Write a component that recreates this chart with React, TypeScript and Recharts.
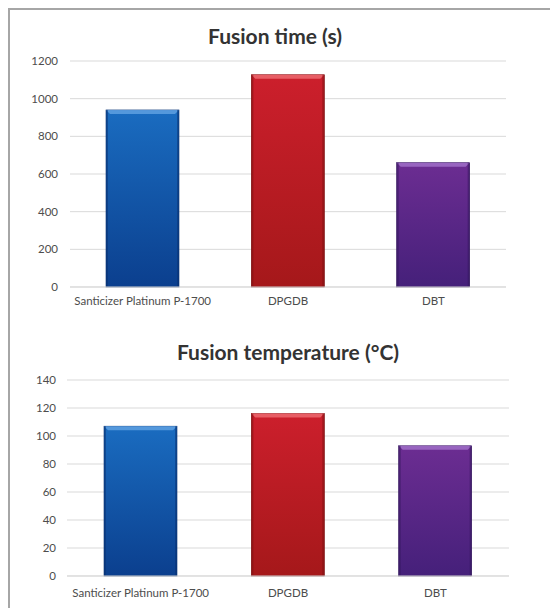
import { BarChart, Bar, XAxis, YAxis, CartesianGrid, Cell } from "recharts";

const categories = ["Santicizer Platinum P-1700", "DPGDB", "DBT"];
const fusionTime = [940, 1127, 660];
const fusionTemp = [107, 116, 93];
const timeTicks = [0, 200, 400, 600, 800, 1000, 1200];
const tempTicks = [0, 20, 40, 60, 80, 100, 120, 140];

const barColors = [
  { top: "#1a6cc0", bottom: "#0b3f8e", light: "#5fa0e0", edge: "#083070" },
  { top: "#cc1f2c", bottom: "#a5181a", light: "#ec6a70", edge: "#7a1010" },
  { top: "#6c2d92", bottom: "#45207a", light: "#a070c8", edge: "#30155a" },
];

const timeData = categories.map((name, i) => ({ name, value: fusionTime[i] }));
const tempData = categories.map((name, i) => ({ name, value: fusionTemp[i] }));

const font = "Lato, 'Open Sans', sans-serif";

function BevelBar(props: any) {
  const { x, y, width, height, index } = props;
  if (height <= 0) return null;
  const c = barColors[index % barColors.length];
  const b = 4;
  return (
    <g>
      <rect x={x} y={y} width={width} height={height} fill={`url(#grad${index})`} stroke={c.edge} strokeWidth={0.6} />
      <polygon
        points={`${x},${y} ${x + width},${y} ${x + width - b},${y + b} ${x + b},${y + b}`}
        fill={c.light}
        opacity={0.85}
      />
      <rect x={x} y={y} width={2} height={height} fill={c.edge} opacity={0.5} />
      <rect x={x + width - 2} y={y} width={2} height={height} fill={c.edge} opacity={0.5} />
    </g>
  );
}

function Defs() {
  return (
    <defs>
      {barColors.map((c, i) => (
        <linearGradient key={i} id={`grad${i}`} x1="0" y1="0" x2="0" y2="1">
          <stop offset="0%" stopColor={c.top} />
          <stop offset="100%" stopColor={c.bottom} />
        </linearGradient>
      ))}
    </defs>
  );
}

const tickStyle = { fill: "#4d4d4d", fontSize: 11.5, fontFamily: font };

const titleStyle = {
  position: "absolute" as const,
  left: 0,
  textAlign: "center" as const,
  fontFamily: font,
  fontWeight: 700,
  fontSize: 21,
  color: "#333",
};

export default function App() {
  return (
    <div
      style={{
        position: "relative",
        width: 560,
        height: 610,
        border: "2px solid #a6a6a6",
        boxSizing: "border-box",
        background: "#fff",
      }}
    >
      <div style={{ ...titleStyle, width: 530, top: 13 }}>Fusion time (s)</div>
      <div style={{ position: "absolute", left: 0, top: 0 }}>
        <BarChart
          width={548}
          height={300}
          data={timeData}
          margin={{ top: 51, right: 52, bottom: 3, left: 10 }}
        >
          <Defs />
          <CartesianGrid vertical={false} stroke="#d9d9d9" />
          <XAxis
            dataKey="name"
            tickLine={false}
            axisLine={{ stroke: "#d9d9d9" }}
            tickSize={0}
            tickMargin={10}
            height={20}
            tick={tickStyle}
            interval={0}
          />
          <YAxis
            domain={[0, 1200]}
            ticks={timeTicks}
            width={50}
            tickLine={false}
            axisLine={false}
            tickSize={0}
            tickMargin={12}
            tick={tickStyle}
          />
          <Bar dataKey="value" barSize={73} shape={BevelBar} isAnimationActive={false}>
            {timeData.map((d, i) => (
              <Cell key={d.name} fill={barColors[i].top} />
            ))}
          </Bar>
        </BarChart>
      </div>
      <div style={{ ...titleStyle, width: 556, top: 329 }}>Fusion temperature (°C)</div>
      <div style={{ position: "absolute", left: 0, top: 300 }}>
        <BarChart
          width={548}
          height={298}
          data={tempData}
          margin={{ top: 70, right: 49, bottom: 12, left: 10 }}
        >
          <Defs />
          <CartesianGrid vertical={false} stroke="#d9d9d9" />
          <XAxis
            dataKey="name"
            tickLine={false}
            axisLine={{ stroke: "#d9d9d9" }}
            tickSize={0}
            tickMargin={13}
            height={20}
            tick={tickStyle}
            interval={0}
          />
          <YAxis
            domain={[0, 140]}
            ticks={tempTicks}
            width={47}
            tickLine={false}
            axisLine={false}
            tickSize={0}
            tickMargin={11}
            tick={tickStyle}
          />
          <Bar dataKey="value" barSize={73} shape={BevelBar} isAnimationActive={false}>
            {tempData.map((d, i) => (
              <Cell key={d.name} fill={barColors[i].top} />
            ))}
          </Bar>
        </BarChart>
      </div>
    </div>
  );
}
